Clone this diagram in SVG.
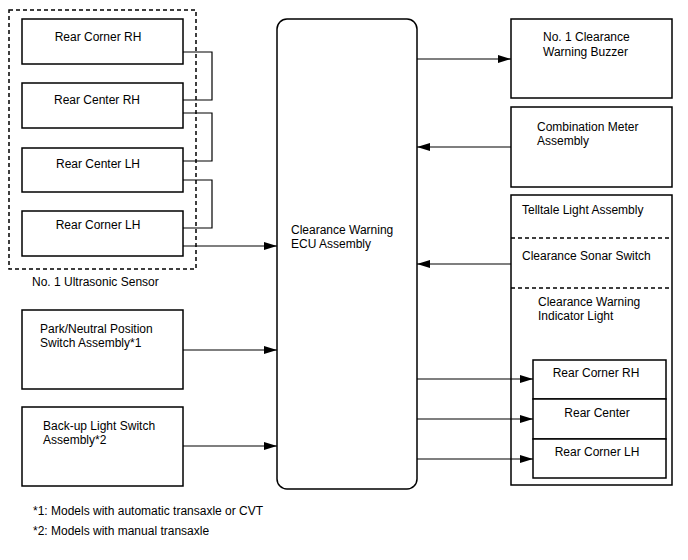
<svg xmlns="http://www.w3.org/2000/svg" width="688" height="560" viewBox="0 0 688 560">
<style>
text{font-family:"Liberation Sans",Arial,sans-serif;font-size:12px;fill:#000}
.b{fill:#fff;stroke:#000;stroke-width:1.5}
.d{fill:none;stroke:#000;stroke-width:1.5;stroke-dasharray:4,3}
.l{fill:none;stroke:#000;stroke-width:1.2}
.m{text-anchor:middle}
</style>
<defs>
<marker id="a" markerWidth="13" markerHeight="8" refX="13" refY="4" orient="auto" markerUnits="userSpaceOnUse">
<path d="M0,0 L13,4 L0,8 Z" fill="#000"/>
</marker>
</defs>
<rect width="688" height="560" fill="#fff"/>
<g id="sensor-group">
<rect class="d" x="9" y="10" width="187" height="259"/>
<text x="32" y="286">No. 1 Ultrasonic Sensor</text>
</g>
<g id="rear-corner-rh"><rect class="b" x="22" y="19" width="161" height="45"/><text class="m" x="98" y="41">Rear Corner RH</text></g>
<g id="rear-center-rh"><rect class="b" x="22" y="83" width="161" height="45"/><text class="m" x="97" y="104">Rear Center RH</text></g>
<g id="rear-center-lh"><rect class="b" x="22" y="148" width="161" height="44"/><text class="m" x="98" y="168">Rear Center LH</text></g>
<g id="rear-corner-lh"><rect class="b" x="22" y="211" width="161" height="45"/><text class="m" x="98" y="229">Rear Corner LH</text></g>
<g id="park-neutral"><rect class="b" x="22" y="310" width="161" height="79"/><text x="40" y="333">Park/Neutral Position</text><text x="40" y="347">Switch Assembly*1</text></g>
<g id="backup-light"><rect class="b" x="22" y="407" width="161" height="79"/><text x="43" y="430">Back-up Light Switch</text><text x="43" y="444">Assembly*2</text></g>
<g id="ecu"><rect class="b" x="277" y="19" width="140" height="470" rx="10"/><text x="291" y="234">Clearance Warning</text><text x="291" y="248">ECU Assembly</text></g>
<g id="buzzer"><rect class="b" x="511" y="19" width="161" height="79"/><text x="543" y="41">No. 1 Clearance</text><text x="543" y="56">Warning Buzzer</text></g>
<g id="combination-meter"><rect class="b" x="511" y="107" width="161" height="80"/><text x="537" y="131">Combination Meter</text><text x="537" y="145">Assembly</text></g>
<g id="telltale">
<rect class="b" x="511" y="195" width="161" height="290"/>
<line class="d" x1="511" y1="238" x2="672" y2="238"/>
<line class="d" x1="511" y1="288" x2="672" y2="288"/>
<text x="522" y="214">Telltale Light Assembly</text>
<text x="522" y="260">Clearance Sonar Switch</text>
<text x="538" y="306">Clearance Warning</text>
<text x="538" y="320">Indicator Light</text>
</g>
<g id="ind-rear-corner-rh"><rect class="b" x="533" y="360" width="133" height="39"/><text class="m" x="596" y="377">Rear Corner RH</text></g>
<g id="ind-rear-center"><rect class="b" x="533" y="399" width="133" height="40"/><text class="m" x="597" y="417">Rear Center</text></g>
<g id="ind-rear-corner-lh"><rect class="b" x="533" y="439" width="133" height="39"/><text class="m" x="597" y="456">Rear Corner LH</text></g>
<g id="notes">
<text x="33" y="515">*1: Models with automatic transaxle or CVT</text>
<text x="33" y="535">*2: Models with manual transaxle</text>
</g>
<g id="connectors">
<polyline class="l" points="183,52 212,52 212,100 183,100"/>
<polyline class="l" points="183,113 212,113 212,161 183,161"/>
<polyline class="l" points="183,180 212,180 212,228 183,228"/>
<line class="l" x1="183" y1="246" x2="277" y2="246" marker-end="url(#a)"/>
<line class="l" x1="183" y1="350" x2="277" y2="350" marker-end="url(#a)"/>
<line class="l" x1="183" y1="446" x2="277" y2="446" marker-end="url(#a)"/>
<line class="l" x1="417" y1="59" x2="511" y2="59" marker-end="url(#a)"/>
<line class="l" x1="511" y1="147" x2="417" y2="147" marker-end="url(#a)"/>
<line class="l" x1="511" y1="264" x2="417" y2="264" marker-end="url(#a)"/>
<line class="l" x1="417" y1="379" x2="533" y2="379" marker-end="url(#a)"/>
<line class="l" x1="417" y1="419" x2="533" y2="419" marker-end="url(#a)"/>
<line class="l" x1="417" y1="459" x2="533" y2="459" marker-end="url(#a)"/>
</g>
</svg>
